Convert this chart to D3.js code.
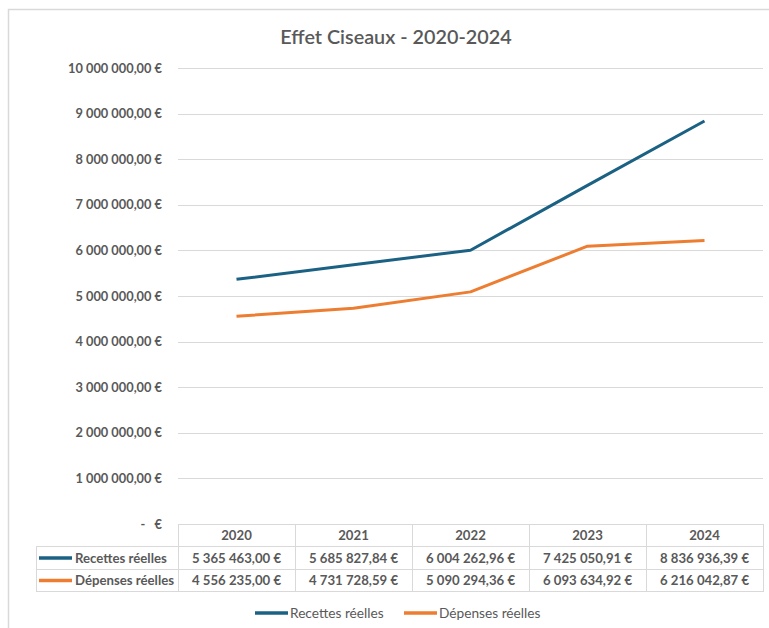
<!DOCTYPE html>
<html><head><meta charset="utf-8">
<script src="https://cdn.jsdelivr.net/npm/d3@7"></script>
<style>
html,body{margin:0;padding:0;background:#fff;}
svg{display:block;font-family:Lato, "Open Sans", sans-serif;}
</style></head>
<body><svg id="c" width="769" height="628"></svg>
<script>
const years = ["2020","2021","2022","2023","2024"];
const seriesNames = ["Recettes réelles","Dépenses réelles"];
const recettes = [5365463.00, 5685827.84, 6004262.96, 7425050.91, 8836936.39];
const depenses = [4556235.00, 4731728.59, 5090294.36, 6093634.92, 6216042.87];
const yTicks = [0,1000000,2000000,3000000,4000000,5000000,6000000,7000000,8000000,9000000,10000000];
const title = "Effet Ciseaux - 2020-2024";
const colors = ["#1b6184","#ed7d31"];

(function(){
const series = [recettes, depenses];
const fr = d3.formatLocale({decimal:",", thousands:"\u00a0", grouping:[3], currency:["","\u00a0€"]});
const fmt = fr.format("$,.2f");
const yFmt = v => v === 0 ? "-\u00a0\u00a0\u00a0€" : fmt(v);

const svg = d3.select("#c");
const gray = "#595959", gridC = "#d9d9d9";

svg.append("rect").attr("x",8.5).attr("y",9.5).attr("width",800).attr("height",700)
  .attr("fill","#fff").attr("stroke","#d9d9d9").attr("stroke-width",1.5);

svg.append("text").attr("x",396).attr("y",44).attr("text-anchor","middle")
  .attr("fill",gray).attr("font-size",19.8).attr("font-weight",600).text(title);

const pL=178, pR=763, pT=68, pB=524;
const x = d3.scaleBand().domain(years).range([pL,pR]).padding(0);
const y = d3.scaleLinear().domain([0,10000000]).range([pB,pT]);

svg.append("g").selectAll("line").data(yTicks).join("line")
  .attr("x1",pL).attr("x2",pR).attr("y1",d=>Math.round(y(d))+0.5).attr("y2",d=>Math.round(y(d))+0.5)
  .attr("stroke",gridC).attr("stroke-width",1);

const ya = svg.append("g").attr("transform",`translate(${pL-6},0)`)
  .call(d3.axisLeft(y).tickValues(yTicks).tickFormat(yFmt).tickSize(0).tickPadding(10));
ya.select(".domain").remove();
ya.selectAll("text").attr("fill",gray).attr("font-size",12.8).attr("font-weight",700)
  .attr("font-family","Lato, sans-serif");

const line = d3.line().x((d,i)=>x(years[i])+x.bandwidth()/2).y(d=>y(d));
series.forEach((s,k)=>{
  svg.append("path").datum(s).attr("d",line).attr("fill","none")
    .attr("stroke",colors[k]).attr("stroke-width",3).attr("stroke-linejoin","round");
});

const fs = 13.2;
const rowTops=[524,546,569,591];
const tbl = svg.append("g");
years.forEach(yr=>{
  tbl.append("rect").attr("x",x(yr)+0.5).attr("y",rowTops[0]+0.5).attr("width",x.bandwidth()).attr("height",rowTops[1]-rowTops[0])
    .attr("fill","none").attr("stroke",gridC);
  tbl.append("text").attr("x",x(yr)+x.bandwidth()/2).attr("y",(rowTops[0]+rowTops[1])/2+5)
    .attr("text-anchor","middle").attr("fill",gray).attr("font-size",fs).attr("font-weight",700).text(yr);
});
series.forEach((s,k)=>{
  const t0=rowTops[k+1], t1=rowTops[k+2];
  tbl.append("rect").attr("x",36.5).attr("y",t0+0.5).attr("width",pL-36).attr("height",t1-t0)
    .attr("fill","none").attr("stroke",gridC);
  tbl.append("line").attr("x1",39).attr("x2",72).attr("y1",(t0+t1)/2+0.5).attr("y2",(t0+t1)/2+0.5)
    .attr("stroke",colors[k]).attr("stroke-width",3.5);
  tbl.append("text").attr("x",75).attr("y",(t0+t1)/2+5).attr("fill",gray).attr("font-size",fs).attr("font-weight",700).text(seriesNames[k]);
  years.forEach((yr,i)=>{
    tbl.append("rect").attr("x",x(yr)+0.5).attr("y",t0+0.5).attr("width",x.bandwidth()).attr("height",t1-t0)
      .attr("fill","none").attr("stroke",gridC);
    tbl.append("text").attr("x",x(yr)+x.bandwidth()/2).attr("y",(t0+t1)/2+5)
      .attr("text-anchor","middle").attr("fill",gray).attr("font-size",fs).attr("font-weight",700).text(fmt(s[i]));
  });
});

const legX=[255,404];
seriesNames.forEach((n,k)=>{
  svg.append("line").attr("x1",legX[k]).attr("x2",legX[k]+33).attr("y1",613).attr("y2",613)
    .attr("stroke",colors[k]).attr("stroke-width",3.5);
  svg.append("text").attr("x",legX[k]+35).attr("y",618).attr("fill",gray).attr("font-size",13.7).text(n);
});
})();
</script></body></html>
